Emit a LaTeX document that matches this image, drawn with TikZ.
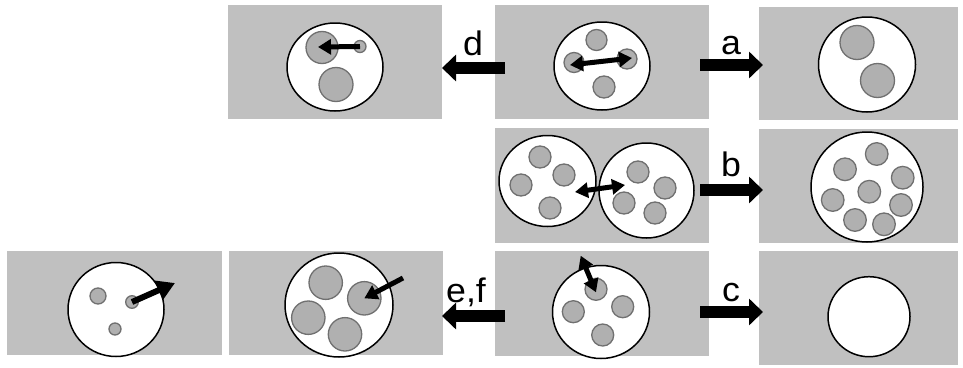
\documentclass[tikz,border=0pt]{standalone}
\usepackage{fontspec}
\setmainfont{Liberation Sans}
\newfontfamily\lblfont[FakeStretch=1.05]{Liberation Sans}
\usetikzlibrary{arrows.meta,shapes.geometric}
\definecolor{panelgray}{RGB}{192,192,192}
\definecolor{orgfill}{RGB}{176,176,176}
\definecolor{orgedge}{RGB}{112,112,112}
\tikzset{
  panel/.style={fill=panelgray, draw=none, anchor=north west, inner sep=0pt},
  cell/.style={ellipse, draw=black, line width=1.5pt, fill=white, inner sep=0pt},
  org/.style={circle, draw=orgedge, fill=orgfill, line width=1.3pt, inner sep=0pt},
  bigarrow/.style={line width=12pt, -{Triangle[width=26pt,length=14pt]}},
  sarrow/.style={line width=5pt, -{Triangle[width=15pt,length=13pt]}},
  dsarrow/.style={line width=5pt, {Triangle[width=15pt,length=13pt]}-{Triangle[width=15pt,length=13pt]}},
  lbl/.style={font=\lblfont\fontsize{34}{36}\selectfont, anchor=base, inner sep=0pt}
}
\begin{document}
\begin{tikzpicture}[x=1pt,y=-1pt]
\useasboundingbox (0,0) rectangle (963,367);
% panels
\node[panel, minimum width=214pt, minimum height=114pt] (Pd) at (228,5) {};
\node[panel, minimum width=214pt, minimum height=114pt] (P1) at (495,5) {};
\node[panel, minimum width=199pt, minimum height=113pt] (Pa) at (759,7) {};
\node[panel, minimum width=214pt, minimum height=115pt] (P2) at (495,128) {};
\node[panel, minimum width=199pt, minimum height=114pt] (Pb) at (759,129) {};
\node[panel, minimum width=215pt, minimum height=104pt] (Pg) at (7,251) {};
\node[panel, minimum width=214pt, minimum height=104pt] (Pef) at (229,251) {};
\node[panel, minimum width=214pt, minimum height=105pt] (P3) at (495,251) {};
\node[panel, minimum width=199pt, minimum height=114pt] (Pc) at (759,251) {};

% panel d
\node[cell, minimum width=96pt, minimum height=88pt] (cd) at (335,67) {};
\node[org, minimum size=32pt] (d1) at (322,47.5) {};
\node[org, minimum size=12pt] (d2) at (360,46.5) {};
\node[org, minimum size=34pt] (d3) at (336,84.5) {};
\coordinate (dt) at (318,47);
\draw[sarrow] (d2.center) -- (dt);

% panel 1
\node[cell, minimum width=96pt, minimum height=88pt] (c1) at (602,66) {};
\node[org, minimum size=21pt] (o11) at (596.5,40) {};
\node[org, minimum size=20pt] (o12) at (574,62.5) {};
\node[org, minimum size=20pt] (o13) at (627,59) {};
\node[org, minimum size=22pt] (o14) at (604,87) {};
\coordinate (a1l) at (570,65);
\coordinate (a1r) at (632,58);
\draw[dsarrow] (a1l) -- (a1r);

% panel a
\node[cell, minimum width=97pt, minimum height=95pt] (ca) at (867,64.5) {};
\node[org, minimum size=34pt] (a1) at (857,42.5) {};
\node[org, minimum size=34pt] (a2) at (877.5,80.5) {};

% panel 2
\node[cell, minimum width=97pt, minimum height=91pt] (c2l) at (547.5,181) {};
\node[cell, minimum width=95pt, minimum height=95pt] (c2r) at (646.5,190.5) {};
\foreach \p [count=\i] in {(540,157),(564,175),(521,185),(550,208)}
  \node[org, minimum size=22pt] (l\i) at \p {};
\foreach \p [count=\i] in {(638,172),(665,188),(624,203),(655,213)}
  \node[org, minimum size=22pt] (r\i) at \p {};
\coordinate (a2l) at (575,192);
\coordinate (a2r) at (625,185);
\draw[dsarrow] (a2l) -- (a2r);

% panel b
\node[cell, minimum width=112pt, minimum height=110pt] (cb) at (867,187) {};
\foreach \p [count=\i] in {(876.7,154),(845,169.3),(902.7,177.7),(869.3,191.7),(832.7,200),(901,205),(855,220),(884,224.3)}
  \node[org, minimum size=22.6pt] (b\i) at \p {};

% far left panel
\node[cell, minimum width=96pt, minimum height=94pt] (cg) at (116,309.5) {};
\node[org, minimum size=16pt] (g1) at (98,296) {};
\node[org, minimum size=12.6pt] (g2) at (132,302) {};
\node[org, minimum size=12pt] (g3) at (115,329) {};
\coordinate (gt) at (175,283);
\draw[line width=6pt, -{Triangle[width=20pt,length=18pt]}] (g2.center) -- (gt);

% panel e,f
\node[cell, minimum width=108pt, minimum height=104pt] (cef) at (339,305) {};
\foreach \p [count=\i] in {(325.7,282.7),(364.3,298.3),(308.3,317.7),(345,334.3)}
  \node[org, minimum size=33.4pt] (e\i) at \p {};
\coordinate (es) at (403,278);
\draw[sarrow] (es) -- (e2.center);

% panel 3
\node[cell, minimum width=97pt, minimum height=93pt] (c3) at (601,312) {};
\foreach \p [count=\i] in {(596,289.3),(573.3,311.7),(622.7,306.7),(602.7,335)}
  \node[org, minimum size=22pt] (t\i) at \p {};
\coordinate (a3t) at (580.7,255.7);
\coordinate (a3b) at (596,292.3);
\draw[dsarrow] (a3t) -- (a3b);

% panel c
\node[cell, minimum width=82pt, minimum height=80pt] (cc) at (869,316.7) {};

% big arrows
\coordinate (dS) at (505,68);  \coordinate (dE) at (442,68);
\coordinate (aS) at (700,65);  \coordinate (aE) at (763,65);
\coordinate (bS) at (700,190); \coordinate (bE) at (763,190);
\coordinate (cS) at (700,312); \coordinate (cE) at (763,312);
\coordinate (eS) at (505,316); \coordinate (eE) at (442,316);
\draw[bigarrow] (dS) -- (dE);
\draw[bigarrow] (aS) -- (aE);
\draw[bigarrow] (bS) -- (bE);
\draw[bigarrow] (cS) -- (cE);
\draw[bigarrow] (eS) -- (eE);

% labels
\node[lbl] (ld) at (473,55) {d};
\node[lbl] (la) at (731,54) {a};
\node[lbl] (lb) at (731,176) {b};
\node[lbl] (lc) at (731,301) {c};
\node[lbl] (lef) at (466,302) {e,f};
\end{tikzpicture}
\end{document}
